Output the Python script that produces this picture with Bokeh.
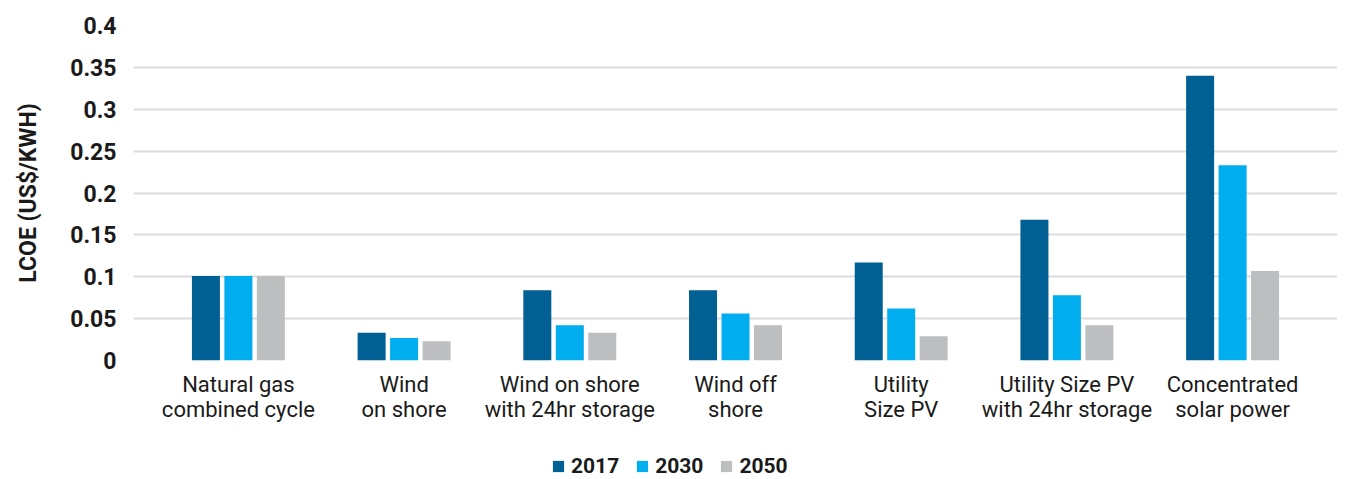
from bokeh.plotting import figure
from bokeh.layouts import column
from bokeh.models import (ColumnDataSource, FactorRange, Range1d, FixedTicker,
                          NumeralTickFormatter, Legend, LegendItem)
from bokeh.transform import dodge
from bokeh.embed import file_html
from bokeh.resources import INLINE

categories = ["Natural gas\ncombined cycle", "Wind\non shore",
              "Wind on shore\nwith 24hr storage", "Wind off\nshore",
              "Utility\nSize PV", "Utility Size PV\nwith 24hr storage",
              "Concentrated\nsolar power"]
years = ["2017", "2030", "2050"]
v2017 = [0.101, 0.033, 0.084, 0.084, 0.117, 0.168, 0.340]
v2030 = [0.101, 0.027, 0.042, 0.056, 0.062, 0.078, 0.233]
v2050 = [0.101, 0.023, 0.033, 0.042, 0.029, 0.042, 0.107]
y_ticks = [0, 0.05, 0.1, 0.15, 0.2, 0.25, 0.3, 0.35, 0.4]

colors = ["#006094", "#00AEEF", "#BCBEC0"]
FONT = "Roboto"
TXT = "#1a1a1a"
keys = ["y2017", "y2030", "y2050"]
offsets = [-0.196, 0.0, 0.196]

src = ColumnDataSource(dict(cat=categories, y2017=v2017, y2030=v2030, y2050=v2050))
xr = FactorRange(*categories, range_padding=0.133, range_padding_units="absolute")

p = figure(x_range=xr, y_range=Range1d(0, 0.4),
           frame_width=1204, frame_height=335,
           output_backend="svg", toolbar_location=None,
           min_border_left=133, min_border_right=2, min_border_top=25,
           min_border_bottom=80)
p.outline_line_color = None

for off, col, key in zip(offsets, colors, keys):
    p.vbar(x=dodge("cat", off, range=xr), top=key, width=0.169,
           source=src, fill_color=col, line_color=None)

# y axis
p.yaxis.ticker = FixedTicker(ticks=y_ticks)
p.yaxis.formatter = NumeralTickFormatter(format="0.[00]")
p.yaxis.axis_line_color = None
p.yaxis.major_tick_line_color = None
p.yaxis.minor_tick_line_color = None
p.yaxis.major_tick_out = 0
p.yaxis.minor_tick_out = 0
p.yaxis.major_label_text_font = FONT
p.yaxis.major_label_text_font_style = "bold"
p.yaxis.major_label_text_font_size = "23px"
p.yaxis.major_label_text_color = TXT
p.yaxis.major_label_standoff = 17
p.yaxis.axis_label = "LCOE (US$/KWH)"
p.yaxis.axis_label_text_font = FONT
p.yaxis.axis_label_text_font_style = "bold"
p.yaxis.axis_label_text_font_size = "23px"
p.yaxis.axis_label_text_color = TXT
p.yaxis.axis_label_standoff = 25

# x axis
p.xaxis.axis_line_color = None
p.xaxis.major_tick_line_color = None
p.xaxis.minor_tick_line_color = None
p.xaxis.major_tick_out = 0
p.xaxis.minor_tick_out = 0
p.xaxis.major_label_text_font = FONT
p.xaxis.major_label_text_font_size = "22px"
p.xaxis.major_label_text_line_height = 1.0
p.xaxis.major_label_text_color = TXT
p.xaxis.major_label_standoff = 11

p.xgrid.grid_line_color = None
p.ygrid.grid_line_color = "#DCDCE0"
p.ygrid.grid_line_width = 2

# legend strip (its own small figure; its bars lie outside its view)
lg = figure(x_range=xr, y_range=Range1d(10, 11), width=1339, height=38,
            output_backend="svg", toolbar_location=None,
            x_axis_type=None, y_axis_type=None,
            min_border_left=0, min_border_right=0, min_border_top=0,
            min_border_bottom=0)
lg.outline_line_color = None
lg.xgrid.grid_line_color = None
lg.ygrid.grid_line_color = None
renderers = [lg.vbar(x=dodge("cat", off, range=xr), top=key, width=0.169,
                     source=src, fill_color=col, line_color=None)
             for off, col, key in zip(offsets, colors, keys)]

legend = Legend(items=[LegendItem(label=y, renderers=[r]) for y, r in zip(years, renderers)],
                orientation="horizontal", location=(418, 0),
                border_line_color=None, background_fill_alpha=0,
                label_text_font=FONT, label_text_font_style="bold",
                label_text_font_size="21px", label_text_color=TXT,
                label_height=18, glyph_width=14, glyph_height=14,
                spacing=16, label_standoff=6, padding=0, margin=0)
lg.add_layout(legend, "center")

layout = column(p, lg, spacing=0)
open("out.html", "w").write(file_html(layout, INLINE))
